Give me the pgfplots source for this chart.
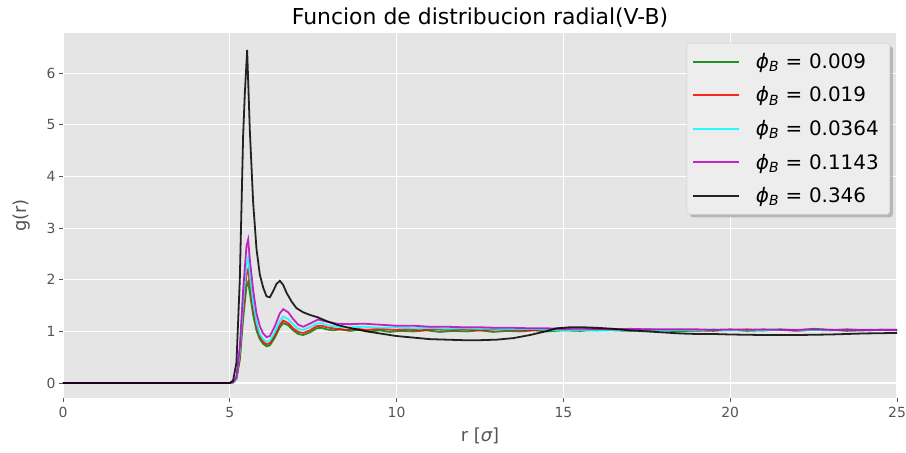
\documentclass[border=0pt]{standalone}
\usepackage{fontspec}
\setmainfont{DejaVu Sans}
\usepackage{pgfplots}
\pgfplotsset{compat=1.18}
\usetikzlibrary{shadows}
\makeatletter
\tikzset{no preactions/.code={\let\tikz@preactions\pgfutil@empty}}
\makeatother
\definecolor{bggray}{HTML}{E5E5E5}
\definecolor{tickgray}{HTML}{555555}
\definecolor{cgreen}{rgb}{0,0.5,0}
\definecolor{cred}{rgb}{1,0,0}
\definecolor{ccyan}{rgb}{0,1,1}
\definecolor{cmag}{rgb}{0.75,0,0.75}
\definecolor{cblack}{rgb}{0,0,0}
\newcommand{\phib}{{\itshape ϕ}\textsubscript{\itshape B}\,\,=\,\,}
\begin{document}
\begin{tikzpicture}
\useasboundingbox (-63bp,-55bp) rectangle (843bp,398bp);
\begin{axis}[
  at={(0,0)}, anchor=south west,
  scale only axis, width=834bp, height=365bp,
  xmin=0, xmax=25, ymin=-0.29, ymax=6.78,
  xtick={0,5,10,15,20,25}, ytick={0,1,2,3,4,5,6},
  axis background/.style={fill=bggray},
  axis line style={draw=none},
  grid=major, major grid style={white, line width=1.2bp},
  tick align=outside, major tick length=4bp,
  tick style={tickgray, line width=0.8bp},
  xtick pos=bottom, ytick pos=left,
  /pgf/number format/assume math mode=true,
  ticklabel style={font=\fontsize{14}{16}\selectfont, text=tickgray},
  xticklabel style={yshift=-2bp},
  title={Funcion de distribucion radial(V-B)},
  title style={font=\fontsize{22}{25}\selectfont, yshift=-4bp},
  xlabel={r [{\itshape σ}]},
  ylabel={g(r)},
  label style={font=\fontsize{18}{21}\selectfont, text=tickgray},
  xlabel style={yshift=-3bp},
  ylabel style={yshift=10bp},
  legend style={at={(0.9916,0.9726)}, anchor=north east,
    fill=bggray!70!white, draw=black!20, rounded corners=3bp,
    drop shadow={shadow xshift=3bp, shadow yshift=-3bp, opacity=0.45},
    font=\fontsize{20}{23}\selectfont, row sep=13bp, column sep=10bp,
    inner xsep=5bp, inner ysep=8bp,
    nodes={inner xsep=6bp}},
  legend cell align=left,
  legend image code/.code={\draw[no preactions, #1, line width=2bp] (0bp,0bp) -- (46bp,0bp);},
  every axis plot/.append style={line width=1.8bp, opacity=0.85},
]
\addplot[cgreen] coordinates {
(0,0) (4.9,0) (5.0,0) (5.1,0.01) (5.2,0.08) (5.3,0.45) (5.4,1.25) (5.5,1.88) (5.55,1.96)
(5.6,1.75) (5.7,1.32) (5.8,1.02) (5.9,0.85) (6.0,0.76) (6.1,0.71) (6.2,0.73) (6.35,0.88)
(6.5,1.08) (6.6,1.16) (6.75,1.12) (6.9,1.02) (7.05,0.95) (7.2,0.93) (7.4,0.98) (7.6,1.06)
(7.75,1.07) (7.9,1.04) (8.1,1.02) (8.3,1.04) (8.6,1.01) (8.9,1.03) (9.2,1.00) (9.5,1.02)
(9.8,0.99) (10.1,1.01) (10.5,1.00) (10.9,1.02) (11.3,0.99) (11.7,1.01) (12.1,1.00)
(12.5,1.02) (12.9,0.99) (13.3,1.01) (13.7,1.00) (14.1,1.02) (14.5,1.00) (15,1.02)
(15.5,1.01) (16,1.03) (16.5,1.02) (17,1.01) (17.5,1.03) (18,1.02) (18.5,1.00) (19,1.02)
(19.5,1.01) (20,1.03) (20.5,1.01) (21,1.02) (21.5,1.04) (22,1.02) (22.5,1.05) (23,1.03)
(23.5,1.01) (24,1.02) (24.5,1.03) (25,1.02)
};
\addlegendentry{\phib 0.009}
\addplot[cred] coordinates {
(0,0) (4.9,0) (5.0,0) (5.1,0.01) (5.2,0.09) (5.3,0.5) (5.4,1.4) (5.5,2.1) (5.55,2.2)
(5.6,1.95) (5.7,1.45) (5.8,1.1) (5.9,0.9) (6.0,0.8) (6.1,0.75) (6.2,0.77) (6.35,0.93)
(6.5,1.13) (6.6,1.21) (6.75,1.16) (6.9,1.06) (7.05,0.99) (7.2,0.97) (7.4,1.02) (7.6,1.1)
(7.75,1.11) (7.9,1.08) (8.2,1.05) (8.5,1.03) (8.8,1.05) (9.1,1.03) (9.5,1.05) (9.9,1.03)
(10.3,1.04) (10.7,1.02) (11.1,1.04) (11.5,1.03) (12,1.04) (12.5,1.02) (13,1.04) (13.5,1.03)
(14,1.02) (14.5,1.04) (15,1.03) (15.5,1.02) (16,1.04) (16.5,1.03) (17,1.02) (17.5,1.04)
(18,1.02) (18.5,1.03) (19,1.01) (19.5,1.03) (20,1.02) (20.5,1.04) (21,1.02) (21.5,1.03)
(22,1.01) (22.5,1.03) (23,1.02) (23.5,1.04) (24,1.02) (24.5,1.03) (25,1.03)
};
\addlegendentry{\phib 0.019}
\addplot[ccyan] coordinates {
(0,0) (4.9,0) (5.0,0) (5.1,0.01) (5.2,0.1) (5.3,0.6) (5.4,1.55) (5.5,2.3) (5.55,2.42)
(5.6,2.1) (5.7,1.55) (5.8,1.17) (5.9,0.95) (6.0,0.85) (6.1,0.80) (6.2,0.82) (6.35,0.99)
(6.5,1.2) (6.6,1.29) (6.75,1.24) (6.9,1.13) (7.05,1.05) (7.2,1.03) (7.4,1.08) (7.6,1.15)
(7.75,1.16) (7.9,1.12) (8.2,1.09) (8.6,1.08) (9,1.09) (9.5,1.07) (10,1.08) (10.5,1.06)
(11,1.07) (11.5,1.05) (12,1.06) (12.5,1.05) (13,1.05) (13.5,1.04) (14,1.05) (14.5,1.03)
(15,1.02) (15.5,1.03) (16,1.01) (16.5,1.03) (17,1.02) (17.5,1.04) (18,1.02) (18.5,1.03)
(19,1.02) (19.5,1.04) (20,1.02) (20.5,1.03) (21,1.02) (21.5,1.03) (22,1.02) (22.5,1.03)
(23,1.02) (23.5,1.03) (24,1.02) (24.5,1.03) (25,1.02)
};
\addlegendentry{\phib 0.0364}
\addplot[cmag] coordinates {
(0,0) (4.9,0) (5.0,0) (5.1,0.02) (5.2,0.12) (5.3,0.7) (5.4,1.8) (5.5,2.65) (5.55,2.78)
(5.6,2.4) (5.7,1.8) (5.8,1.35) (5.9,1.1) (6.0,0.96) (6.1,0.89) (6.2,0.91) (6.35,1.1)
(6.5,1.35) (6.6,1.43) (6.75,1.37) (6.9,1.24) (7.05,1.13) (7.2,1.09) (7.4,1.15) (7.65,1.23)
(7.9,1.19) (8.2,1.15) (8.6,1.14) (9,1.15) (9.5,1.13) (10,1.11) (10.5,1.11) (11,1.09)
(11.5,1.09) (12,1.08) (12.5,1.08) (13,1.07) (13.5,1.07) (14,1.06) (14.5,1.06) (15,1.05)
(15.5,1.05) (16,1.05) (16.5,1.04) (17,1.05) (17.5,1.04) (18,1.04) (18.5,1.04) (19,1.04)
(19.5,1.03) (20,1.04) (20.5,1.03) (21,1.04) (21.5,1.03) (22,1.03) (22.5,1.04) (23,1.03)
(23.5,1.03) (24,1.03) (24.5,1.03) (25,1.03)
};
\addlegendentry{\phib 0.1143}
\addplot[cblack] coordinates {
(0,0) (4.9,0) (5.0,0) (5.1,0.05) (5.2,0.4) (5.3,2.0) (5.4,4.8) (5.45,5.6) (5.52,6.45)
(5.6,4.9) (5.7,3.5) (5.8,2.6) (5.9,2.1) (6.0,1.85) (6.1,1.68) (6.2,1.66) (6.3,1.78)
(6.4,1.92) (6.5,1.98) (6.6,1.9) (6.7,1.75) (6.85,1.58) (7.0,1.45) (7.2,1.37) (7.4,1.32)
(7.65,1.27) (7.9,1.2) (8.2,1.13) (8.5,1.08) (9.1,1.0) (9.6,0.95) (10,0.91) (10.5,0.88)
(11,0.85) (11.5,0.84) (12,0.83) (12.5,0.83) (13,0.84) (13.5,0.87) (14,0.93) (14.4,0.99)
(14.8,1.06) (15.2,1.08) (15.6,1.08) (16,1.07) (16.5,1.05) (17,1.02) (17.5,1.0) (18,0.98)
(18.5,0.96) (19,0.95) (19.5,0.95) (20,0.94) (21,0.93) (22,0.93) (23,0.94) (24,0.96) (25,0.97)
};
\addlegendentry{\phib 0.346}
\end{axis}
\end{tikzpicture}
\end{document}
